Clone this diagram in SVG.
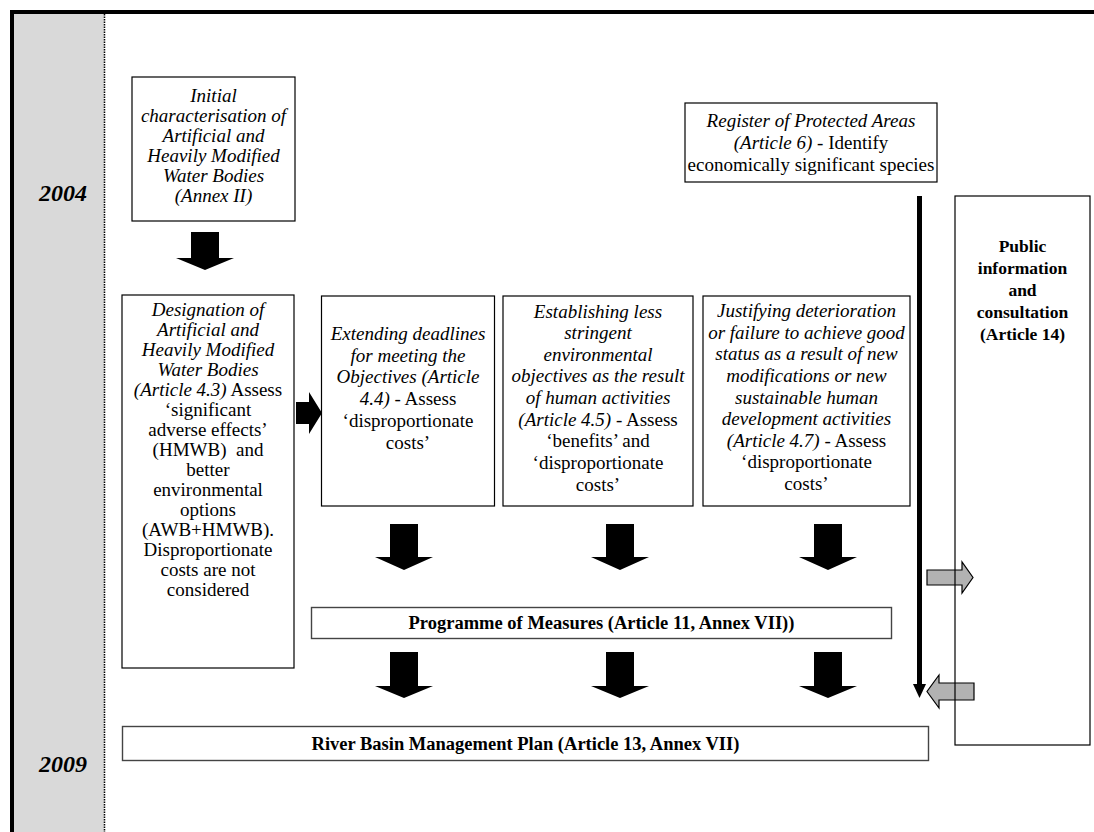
<svg xmlns="http://www.w3.org/2000/svg" width="1094" height="832" viewBox="0 0 1094 832">
<style>
.box{fill:#fff;stroke:#000;stroke-width:1.2}
.bar{fill:#fff;stroke:#444;stroke-width:1.4}
.t{font-family:"Liberation Serif",serif;font-size:19px;fill:#000;text-anchor:middle}
.i{font-style:italic}
.bt{font-family:"Liberation Serif",serif;font-size:18.5px;font-weight:bold;fill:#000;text-anchor:middle}
.pt{font-family:"Liberation Serif",serif;font-size:17.5px;font-weight:bold;fill:#000;text-anchor:middle}
.yr{font-family:"Liberation Serif",serif;font-size:24px;font-weight:bold;font-style:italic;text-anchor:middle}
.blk{fill:#000}
.gry{fill:#b2b2b2;stroke:#000;stroke-width:1.2;stroke-linejoin:miter}
</style>
<rect width="1094" height="832" fill="#fff"/>
<g id="timeline">
<rect x="14" y="14" width="90" height="818" fill="#d9d9d9"/>
<rect x="10" y="10" width="1084" height="4" fill="#000"/>
<rect x="10" y="10" width="4" height="822" fill="#000"/>
<line x1="104.5" y1="14" x2="104.5" y2="832" stroke="#000" stroke-width="1.5" stroke-dasharray="1.5 1"/>
<text class="yr" x="63" y="201">2004</text>
<text class="yr" x="63" y="772">2009</text>
</g>
<g id="initial">
<rect class="box" x="132" y="77" width="163" height="144"/>
<text class="t i" x="213.5" y="102">Initial</text>
<text class="t i" x="213.5" y="122">characterisation of</text>
<text class="t i" x="213.5" y="142">Artificial and</text>
<text class="t i" x="213.5" y="162">Heavily Modified</text>
<text class="t i" x="213.5" y="182">Water Bodies</text>
<text class="t i" x="213.5" y="202">(Annex II)</text>
</g>
<g id="designation">
<rect class="box" x="122" y="295" width="172" height="373"/>
<text class="t i" x="208" y="316">Designation of</text>
<text class="t i" x="208" y="336">Artificial and</text>
<text class="t i" x="208" y="356">Heavily Modified</text>
<text class="t i" x="208" y="376">Water Bodies</text>
<text class="t" x="208" y="396"><tspan class="i">(Article 4.3)</tspan> Assess</text>
<text class="t" x="208" y="416">‘significant</text>
<text class="t" x="208" y="436">adverse effects’</text>
<text class="t" x="208" y="456" xml:space="preserve">(HMWB)  and</text>
<text class="t" x="208" y="476">better</text>
<text class="t" x="208" y="496">environmental</text>
<text class="t" x="208" y="516">options</text>
<text class="t" x="208" y="536">(AWB+HMWB).</text>
<text class="t" x="208" y="556">Disproportionate</text>
<text class="t" x="208" y="576">costs are not</text>
<text class="t" x="208" y="596">considered</text>
</g>
<g id="extending">
<rect class="box" x="321.5" y="296" width="173" height="210"/>
<text class="t i" x="408" y="340">Extending deadlines</text>
<text class="t i" x="408" y="362">for meeting the</text>
<text class="t i" x="408" y="383">Objectives (Article</text>
<text class="t" x="408" y="405"><tspan class="i">4.4)</tspan> - Assess</text>
<text class="t" x="408" y="427">‘disproportionate</text>
<text class="t" x="408" y="449">costs’</text>
</g>
<g id="establishing">
<rect class="box" x="503" y="296" width="190" height="210"/>
<text class="t i" x="598" y="318">Establishing less</text>
<text class="t i" x="598" y="339">stringent</text>
<text class="t i" x="598" y="361">environmental</text>
<text class="t i" x="598" y="382">objectives as the result</text>
<text class="t i" x="598" y="404">of human activities</text>
<text class="t" x="598" y="426"><tspan class="i">(Article 4.5)</tspan> - Assess</text>
<text class="t" x="598" y="447">‘benefits’ and</text>
<text class="t" x="598" y="469">‘disproportionate</text>
<text class="t" x="598" y="491">costs’</text>
</g>
<g id="justifying">
<rect class="box" x="703" y="296" width="207" height="210"/>
<text class="t i" x="806.5" y="317">Justifying deterioration</text>
<text class="t i" x="806.5" y="339">or failure to achieve good</text>
<text class="t i" x="806.5" y="360">status as a result of new</text>
<text class="t i" x="806.5" y="382">modifications or new</text>
<text class="t i" x="806.5" y="404">sustainable human</text>
<text class="t i" x="806.5" y="425">development activities</text>
<text class="t" x="806.5" y="447"><tspan class="i">(Article 4.7)</tspan> - Assess</text>
<text class="t" x="806.5" y="468">‘disproportionate</text>
<text class="t" x="806.5" y="490">costs’</text>
</g>
<g id="register">
<rect class="box" x="685" y="103" width="252" height="79"/>
<text class="t i" x="811" y="127">Register of Protected Areas</text>
<text class="t" x="811" y="149"><tspan class="i">(Article 6)</tspan> - Identify</text>
<text class="t" x="811" y="171">economically significant species</text>
</g>
<g id="programme">
<rect class="bar" x="311.5" y="607.5" width="580" height="31"/>
<text class="bt" x="601.5" y="629">Programme of Measures (Article 11, Annex VII))</text>
</g>
<g id="rbmp">
<rect class="bar" x="122.5" y="726.5" width="806" height="34"/>
<text class="bt" x="525.5" y="749.5">River Basin Management Plan (Article 13, Annex VII)</text>
</g>
<g id="connectors">
<polygon class="blk" points="191,232 219,232 219,258 234,258 205,270 176,258 191,258"/>
<polygon class="blk" points="296,402 309,402 309,392 322,413 309,434 309,424 296,424"/>
<polygon class="blk" points="390,524 418,524 418,557 433,557 404,570 375,557 390,557"/>
<polygon class="blk" points="606,524 634,524 634,557 649,557 620,570 591,557 606,557"/>
<polygon class="blk" points="814,524 842,524 842,557 857,557 828,570 799,557 814,557"/>
<polygon class="blk" points="390,652 418,652 418,686 433,686 404,698 375,686 390,686"/>
<polygon class="blk" points="606,652 634,652 634,686 649,686 620,698 591,686 606,686"/>
<polygon class="blk" points="814,652 842,652 842,686 857,686 828,698 799,686 814,686"/>
<rect x="917" y="196" width="5" height="490" fill="#000"/>
<polygon class="blk" points="913,684 926,684 919.5,698"/>
<polygon class="gry" points="927,570 962,570 962,562 973,577.5 962,593 962,585 927,585"/>
<polygon class="gry" points="974,683 939,683 939,675 927,691.5 939,708 939,700 974,700"/>
</g>
<g id="public">
<rect x="955" y="196" width="135" height="549" fill="none" stroke="#000" stroke-width="1.2"/>
<text class="pt" x="1022.5" y="252">Public</text>
<text class="pt" x="1022.5" y="274">information</text>
<text class="pt" x="1022.5" y="296">and</text>
<text class="pt" x="1022.5" y="318">consultation</text>
<text class="pt" x="1022.5" y="340">(Article 14)</text>
</g>
</svg>
